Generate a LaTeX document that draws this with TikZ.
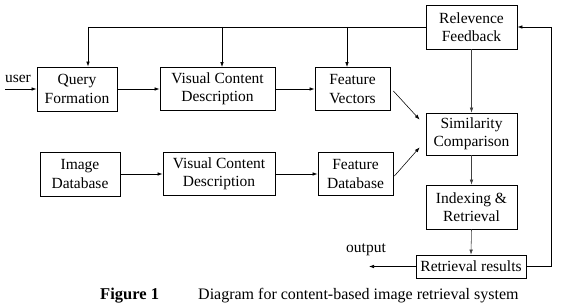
\documentclass[tikz,border=0pt]{standalone}
\usepackage{fontspec}
\setmainfont{Liberation Serif}
\usetikzlibrary{arrows.meta,calc}
\begin{document}
\begin{tikzpicture}[x=1pt,y=-1pt,
  box/.style={draw, line width=0.8pt, align=center, inner sep=0pt,
    font=\fontsize{15.5}{18.5}\selectfont},
  link/.style={line width=0.7pt, -{Latex[length=5pt,width=3.6pt]}},
  thinlink/.style={link, line width=0.55pt, draw=black!75},
  wire/.style={line width=0.7pt},
  lbl/.style={font=\fontsize{15.5}{18.5}\selectfont, inner sep=0pt}]
\useasboundingbox (0,0) rectangle (572,307);

% blocks
\node[box, minimum width=91pt, minimum height=44pt] (rf) at (471.5,27) {Relevence\\Feedback};
\node[box, minimum width=80pt, minimum height=44pt] (qf) at (77,89) {Query\\Formation};
\node[box, minimum width=115pt, minimum height=43pt] (vcd1) at (217.5,89) {Visual Content\\Description};
\node[box, minimum width=75pt, minimum height=43pt] (fv) at (352.5,89) {Feature\\Vectors};
\node[box, minimum width=91pt, minimum height=42pt] (sc) at (471.5,134) {Similarity\\Comparison};
\node[box, minimum width=80pt, minimum height=44pt] (idb) at (80,174) {Image\\Database};
\node[box, minimum width=112pt, minimum height=43pt] (vcd2) at (219,174) {Visual Content\\Description};
\node[box, minimum width=75pt, minimum height=43pt] (fdb) at (355.5,174) {Feature\\Database};
\node[box, minimum width=91pt, minimum height=44pt] (ir) at (471.5,207) {Indexing \&\\Retrieval};
\node[box, minimum width=110pt, minimum height=23pt] (rr) at (471,266.5) {Retrieval results};

% free ends and junctions
\coordinate (uin) at (5,89);
\coordinate (j1) at (88,27);
\coordinate (j2) at (222,27);
\coordinate (j3) at (347,27);
\coordinate (outp) at (369,266.5);
\coordinate (back) at (551,266.5);
\coordinate (backtop) at (551,27);

\node[lbl] (user) at (18,79) {user};
\node[lbl] (output) at (366,250) {output};

% main flow
\draw[link] (uin) -- (qf.west);
\draw[link] (qf.east) -- (vcd1.west);
\draw[link] (vcd1.east) -- (fv.west);
\draw[link] (idb.east) -- (vcd2.west);
\draw[link] (vcd2.east) -- (fdb.west);
\draw[link, line width=0.55pt] ($(fv.east)+(3,2)$) -- ($(sc.north west)+(-6,7)$);
\draw[link, line width=0.55pt] ($(fdb.east)+(1,2)$) -- ($(sc.south west)+(-6,-8)$);
\draw[thinlink] (rf.south) -- (sc.north);
\draw[thinlink] (sc.south) -- (ir.north);
\draw[thinlink] (ir.south) -- (rr.north);
\draw[link] (rr.west) -- (outp);

% feedback paths
\draw[wire] (rf.west) -- (j1);
\draw[link] (j1) -- (j1 |- qf.north);
\draw[link] (j2) -- (j2 |- vcd1.north);
\draw[link] (j3) -- (j3 |- fv.north);
\draw[link] (rr.east) -- (back) -- (backtop) -- (rf.east);

% caption
\node[anchor=west, inner sep=0pt, font=\fontsize{16.5}{18}\selectfont\bfseries] (capnum) at (100,296) {Figure 1};
\node[anchor=west, inner sep=0pt, font=\fontsize{16}{18}\selectfont] (captext) at (198,296) {Diagram for content-based image retrieval system};
\end{tikzpicture}
\end{document}
